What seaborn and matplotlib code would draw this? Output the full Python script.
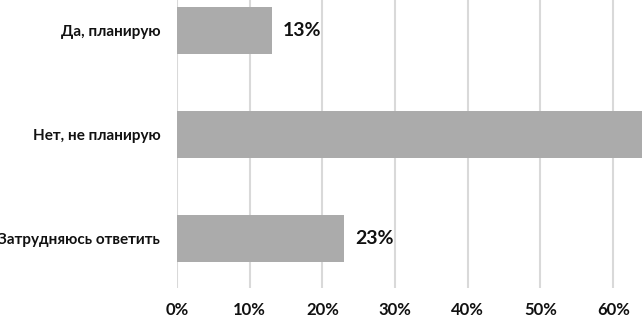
import matplotlib
matplotlib.use('Agg')
import matplotlib.pyplot as plt
import seaborn as sns
import pandas as pd
from matplotlib.ticker import FuncFormatter

categories = ['Да, планирую', 'Нет, не планирую', 'Затрудняюсь ответить']
values = [13, 64, 23]
x_ticks = [0, 10, 20, 30, 40, 50, 60]

sns.set_style('white')
plt.rcParams['font.family'] = ['Lato', 'DejaVu Sans']

df = pd.DataFrame({'answer': categories, 'share': values})

fig = plt.figure(figsize=(6.43, 3.19), dpi=100)
ax = fig.add_axes([0.2753, 0.097, 0.7247, 0.965])

sns.barplot(data=df, x='share', y='answer', orient='h', color='#ababab',
            saturation=1, width=0.45, linewidth=0, ax=ax, zorder=2)

# подписи значений справа от столбцов
for i, v in enumerate(values):
    ax.text(v + 1.5, i, f'{v}%', va='center', ha='left', fontsize=14,
            fontweight='bold', color='#111111', clip_on=True)

ax.set_xlim(0, 64.1)
ax.set_ylim(2.48, -0.48)
ax.set_xticks(x_ticks)
ax.xaxis.set_major_formatter(FuncFormatter(lambda v, p: f'{v:.0f}%'))
ax.grid(axis='x', color='#d9d9d9', linewidth=1.5, zorder=0)
ax.set_axisbelow(True)
for s in ax.spines.values():
    s.set_visible(False)
ax.tick_params(axis='x', length=0, pad=10, labelsize=12)
ax.tick_params(axis='y', length=0, pad=12, labelsize=11)
for lbl in ax.get_xticklabels() + ax.get_yticklabels():
    lbl.set_fontweight('bold')
    lbl.set_color('#111111')
ax.set_xlabel('')
ax.set_ylabel('')

fig.savefig('out.png', dpi=100)
